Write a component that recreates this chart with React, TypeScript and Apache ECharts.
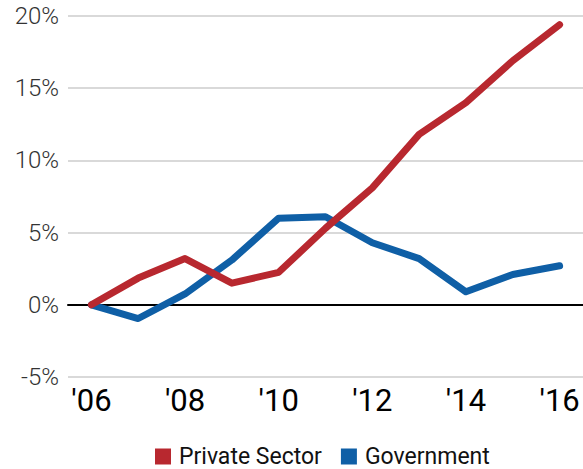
import React, { useEffect, useRef } from "react";
import * as echarts from "echarts";

const years = ["'06", "'07", "'08", "'09", "'10", "'11", "'12", "'13", "'14", "'15", "'16"];
const privateSector = [0, 1.85, 3.2, 1.5, 2.25, 5.3, 8.1, 11.8, 14.0, 16.9, 19.4];
const government = [0, -0.95, 0.75, 3.1, 6.0, 6.1, 4.3, 3.2, 0.9, 2.1, 2.7];
const yTicks = { min: -5, max: 20, interval: 5 };

export default function App() {
  const ref = useRef<HTMLDivElement>(null);
  useEffect(() => {
    if (!ref.current) return;
    const chart = echarts.init(ref.current, null, { renderer: "svg" });
    chart.setOption({
      animation: false,
      grid: { left: 68, right: 0, top: 16, bottom: 92, containLabel: false },
      legend: {
        left: 155,
        top: 445,
        padding: 0,
        icon: "rect",
        itemWidth: 16,
        itemHeight: 16,
        itemGap: 19,
        textStyle: { fontFamily: "Roboto", fontSize: 23, color: "#111", padding: [0, 0, 0, 3] },
        data: ["Private Sector", "Government"],
      },
      xAxis: {
        type: "category",
        data: years,
        boundaryGap: true,
        axisTick: { show: false },
        axisLine: { show: true, onZero: true, lineStyle: { color: "#000", width: 2 } },
        axisLabel: {
          interval: 1,
          fontFamily: "Roboto",
          fontSize: 31,
          color: "#000",
          margin: 8,
        },
        splitLine: { show: false },
      },
      yAxis: {
        type: "value",
        min: yTicks.min,
        max: yTicks.max,
        interval: yTicks.interval,
        axisLine: { show: false },
        axisTick: { show: false },
        axisLabel: {
          formatter: "{value}%",
          fontFamily: "Roboto",
          fontWeight: 300,
          fontSize: 24,
          color: "#333",
          margin: 9,
        },
        splitLine: { lineStyle: { color: "#cccccc", width: 1.5 } },
      },
      series: [
        {
          name: "Private Sector",
          type: "line",
          data: privateSector,
          symbol: "none",
          color: "#b8282f",
          lineStyle: { width: 7, color: "#b8282f", cap: "round", join: "round" },
          z: 3,
        },
        {
          name: "Government",
          type: "line",
          data: government,
          symbol: "none",
          color: "#0f5fa6",
          lineStyle: { width: 7, color: "#0f5fa6", cap: "round", join: "round" },
          z: 2,
        },
      ],
    });
    return () => chart.dispose();
  }, []);
  return <div ref={ref} style={{ width: 583, height: 469, position: "absolute", left: 0, top: 0 }} />;
}
